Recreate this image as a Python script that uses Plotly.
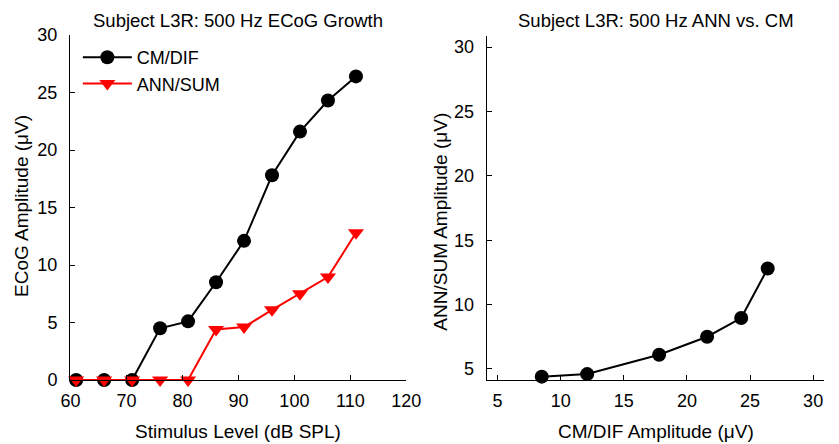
import plotly.graph_objects as go

levels = [61, 66, 71, 76, 81, 86, 91, 96, 101, 106, 111]
cm_dif = [0, 0, 0, 4.5, 5.1, 8.5, 12.1, 17.8, 21.6, 24.3, 26.4]
ann_sum = [0, 0, 0, 0, 0, 4.4, 4.6, 6.1, 7.5, 8.95, 12.8]

# Right panel: points where ANN/SUM response present
cm_right = [8.5, 12.1, 17.8, 21.6, 24.3, 26.4]
ann_right = [4.4, 4.6, 6.1, 7.5, 8.95, 12.8]

left_ticks = [60, 70, 80, 90, 100, 110, 120]
right_ticks = [5, 10, 15, 20, 25, 30]

W, H = 839, 444
ML, MR, MT, MB = 70, 0, 35, 64
PW = W - ML - MR
PH = H - MT - MB

def px(x):
    return (x - ML) / PW

def py(y):
    return (H - MB - y) / PH

FONT = "Liberation Sans, Arial, sans-serif"
TICK = 18
LAB = 19
TITLE = 18.5

fig = go.Figure()
fig.add_trace(go.Scatter(
    x=levels, y=cm_dif, name="CM/DIF", mode="lines+markers",
    line=dict(color="black", width=2),
    marker=dict(symbol="circle", size=14, color="black"),
    cliponaxis=False, xaxis="x", yaxis="y"))
fig.add_trace(go.Scatter(
    x=levels, y=ann_sum, name="ANN/SUM", mode="lines+markers",
    line=dict(color="#ff0000", width=2),
    marker=dict(symbol="triangle-down", size=14, color="#ff0000"),
    cliponaxis=False, xaxis="x", yaxis="y"))
fig.add_trace(go.Scatter(
    x=cm_right, y=ann_right, name="ANN vs CM", mode="lines+markers",
    line=dict(color="black", width=2),
    marker=dict(symbol="circle", size=14, color="black"),
    cliponaxis=False, showlegend=False, xaxis="x2", yaxis="y2"))

axis_common = dict(
    showgrid=False, zeroline=False, showline=True, linecolor="black", linewidth=1,
    ticks="inside", ticklen=5, tickcolor="black", tickwidth=1,
    tickfont=dict(family=FONT, size=TICK, color="black"), mirror=False,
)

fig.update_layout(
    width=W, height=H,
    margin=dict(l=ML, r=MR, t=MT, b=MB),
    paper_bgcolor="white", plot_bgcolor="white",
    font=dict(family=FONT, size=TICK, color="black"),
    xaxis=dict(domain=[0, px(413)], range=[59.9, 120], tickvals=left_ticks,
               anchor="y", ticklabelstandoff=4, **axis_common),
    yaxis=dict(domain=[0, 1], range=[0, 30], tickvals=[0, 5, 10, 15, 20, 25, 30],
               anchor="x", ticklabelstandoff=8, **axis_common),
    xaxis2=dict(domain=[px(495), 1], range=[4.14, 30.86], tickvals=right_ticks,
                anchor="y2", ticklabelstandoff=4, **axis_common),
    yaxis2=dict(domain=[0, py(36)], range=[4.14, 30.86], tickvals=right_ticks,
                anchor="x2", ticklabelstandoff=8, **axis_common),
    legend=dict(x=px(78), y=py(39), xanchor="left", yanchor="top",
                bgcolor="rgba(0,0,0,0)", font=dict(family=FONT, size=18),
                itemwidth=49, tracegroupgap=0),
    showlegend=True,
)

ann = [
    dict(text="Subject L3R: 500 Hz ECoG Growth", x=px(241), y=py(20), size=TITLE),
    dict(text="Subject L3R: 500 Hz ANN vs. CM", x=px(668), y=py(20), size=TITLE),
    dict(text="Stimulus Level (dB SPL)", x=px(241), y=py(431), size=LAB),
    dict(text="CM/DIF Amplitude (μV)", x=px(668), y=py(431), size=LAB),
]
for a in ann:
    fig.add_annotation(text=a["text"], x=a["x"], y=a["y"], xref="paper", yref="paper",
                       xanchor="center", yanchor="middle", showarrow=False,
                       font=dict(family=FONT, size=a["size"], color="black"))
fig.add_annotation(text="ECoG Amplitude (μV)", x=px(20), y=py(206), xref="paper", yref="paper",
                   xanchor="center", yanchor="middle", showarrow=False, textangle=-90,
                   font=dict(family=FONT, size=LAB, color="black"))
fig.add_annotation(text="ANN/SUM Amplitude (μV)", x=px(447), y=py(222), xref="paper", yref="paper",
                   xanchor="center", yanchor="middle", showarrow=False, textangle=-90,
                   font=dict(family=FONT, size=LAB, color="black"))

fig.write_html("out.html")
